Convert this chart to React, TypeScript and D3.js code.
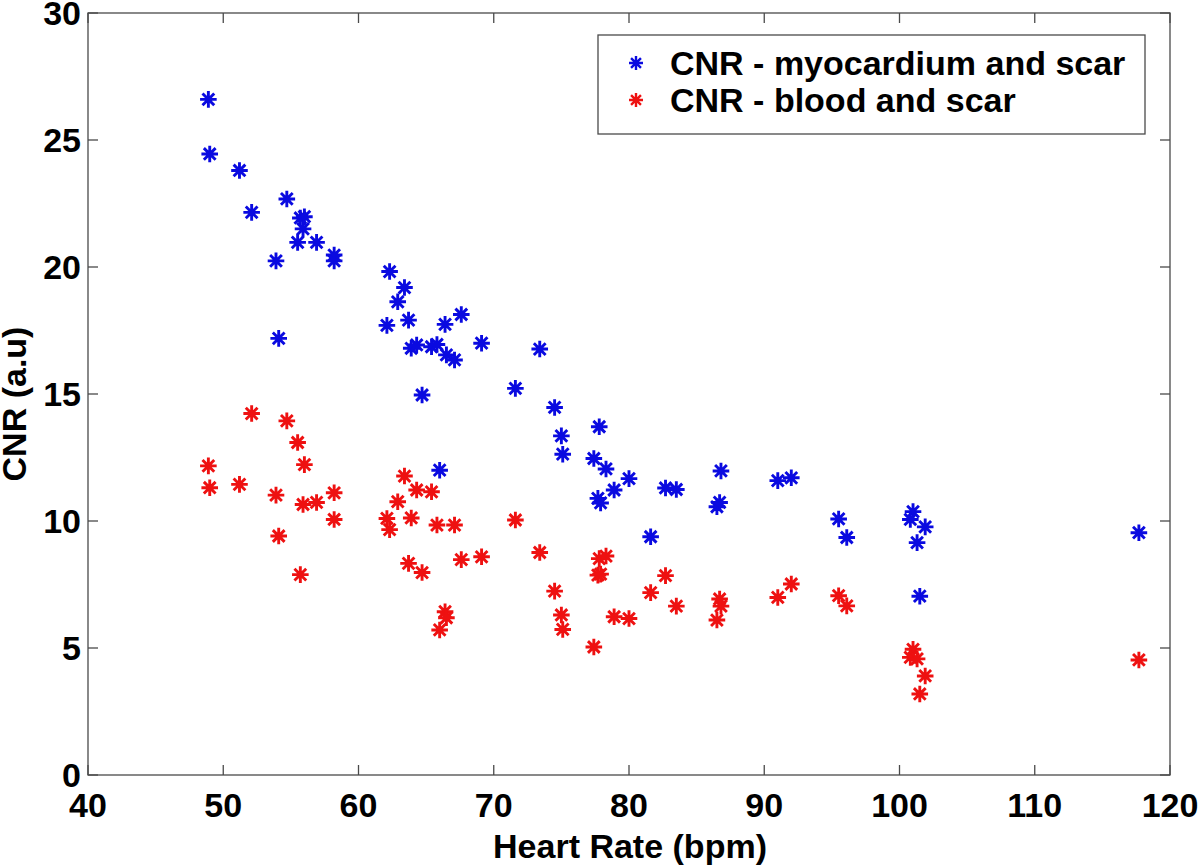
import React from "react";
import * as d3 from "d3";

const heartRate = [
  48.9, 49.0, 51.2, 52.1, 54.7, 53.9, 54.1, 55.5, 55.7, 55.9, 56.0, 56.9, 58.2, 58.2,
  62.3, 63.4, 62.9, 62.1, 63.7, 66.4, 67.6, 63.9, 64.3, 65.4, 65.8, 66.5, 67.1, 69.1,
  64.7, 66.0, 71.6, 73.4, 74.5, 75.0, 75.1, 77.8, 77.4, 78.3, 80.0, 78.9, 77.7, 77.9,
  82.7, 83.5, 86.8, 86.5, 86.7, 81.6, 91.0, 92.0, 95.5, 96.1, 101.0, 100.8, 101.9,
  101.3, 101.5, 117.7,
];

const cnrMyocardium = [
  26.6, 24.45, 23.8, 22.15, 22.68, 20.24, 17.19, 20.97, 21.93, 21.5, 21.98, 20.97, 20.47, 20.24,
  19.82, 19.19, 18.63, 17.7, 17.91, 17.74, 18.13, 16.8, 16.93, 16.86, 16.95, 16.54, 16.34, 17.0,
  14.96, 12.0, 15.22, 16.77, 14.47, 13.35, 12.63, 13.71, 12.46, 12.05, 11.67, 11.22, 10.89, 10.71,
  11.3, 11.24, 11.97, 10.56, 10.73, 9.38, 11.59, 11.7, 10.08, 9.35, 10.37, 10.06, 9.77,
  9.15, 7.04, 9.54,
];

const cnrBlood = [
  12.17, 11.31, 11.44, 14.23, 13.94, 11.02, 9.41, 13.09, 7.89, 10.65, 12.22, 10.73, 11.11, 10.06,
  9.66, 11.77, 10.76, 10.1, 8.33, 6.43, 8.48, 10.12, 11.22, 11.15, 9.84, 6.19, 9.84, 8.59,
  7.97, 5.71, 10.04, 8.76, 7.24, 6.3, 5.73, 8.52, 5.04, 8.62, 6.16, 6.23, 7.87, 7.91,
  7.85, 6.65, 6.65, 6.1, 6.93, 7.18, 6.99, 7.52, 7.06, 6.66, 4.95, 4.63, 3.9,
  4.57, 3.19, 4.53,
];

const xTicks = [40, 50, 60, 70, 80, 90, 100, 110, 120];
const yTicks = [0, 5, 10, 15, 20, 25, 30];

const seriesNames = ["CNR - myocardium and scar", "CNR - blood and scar"];
const seriesColors = ["#0a0ae0", "#ee1111"];

const W = 1200;
const H = 866;
const FONT = "'Liberation Sans', Arial, Helvetica, sans-serif";

function starPath(r: number) {
  const d = r * Math.SQRT1_2;
  return `M0,${-r}L0,${r}M${-r},0L${r},0M${-d},${-d}L${d},${d}M${-d},${d}L${d},${-d}`;
}

export default function App() {
  const x = d3.scaleLinear().domain([40, 120]).range([88, 1170]);
  const y = d3.scaleLinear().domain([0, 30]).range([775, 13]);
  const [x0, x1] = x.range();
  const [y0, y1] = y.range();
  const tick = 10;
  const axisColor = "#4a4a4a";
  const marker = starPath(8.3);

  const series = [cnrMyocardium, cnrBlood];

  return (
    <svg
      width={W}
      height={H}
      style={{ position: "absolute", left: 0, top: 0, background: "#fff" }}
      fontFamily={FONT}
    >
      <rect x={0} y={0} width={W} height={H} fill="#fff" />
      {/* frame */}
      <rect x={x0} y={y1} width={x1 - x0} height={y0 - y1} fill="none" stroke={axisColor} strokeWidth={1.3} />
      {xTicks.map((t) => (
        <g key={"xt" + t}>
          <line x1={x(t)} x2={x(t)} y1={y0} y2={y0 - tick} stroke={axisColor} strokeWidth={1.3} />
          <line x1={x(t)} x2={x(t)} y1={y1} y2={y1 + tick} stroke={axisColor} strokeWidth={1.3} />
          <text x={x(t)} y={817} textAnchor="middle" fontSize={34} fontWeight="bold" fill="#000">
            {t}
          </text>
        </g>
      ))}
      {yTicks.map((t) => (
        <g key={"yt" + t}>
          <line x1={x0} x2={x0 + tick} y1={y(t)} y2={y(t)} stroke={axisColor} strokeWidth={1.3} />
          <line x1={x1} x2={x1 - tick} y1={y(t)} y2={y(t)} stroke={axisColor} strokeWidth={1.3} />
          <text x={81} y={y(t) + 12} textAnchor="end" fontSize={34} fontWeight="bold" fill="#000">
            {t}
          </text>
        </g>
      ))}
      {/* axis labels */}
      <text x={630} y={858} textAnchor="middle" fontSize={34} fontWeight="bold" fill="#000">
        Heart Rate (bpm)
      </text>
      <text
        transform={`translate(26,${(y0 + y1) / 2 + 10}) rotate(-90)`}
        textAnchor="middle"
        fontSize={34}
        fontWeight="bold"
        fill="#000"
      >
        CNR (a.u)
      </text>
      {/* points */}
      {series.map((vals, si) => (
        <g key={"s" + si} stroke={seriesColors[si]} strokeWidth={2.9} fill="none">
          {vals.map((v, i) => (
            <path key={i} d={marker} transform={`translate(${x(heartRate[i])},${y(v)})`} />
          ))}
        </g>
      ))}
      {/* legend */}
      <g>
        <rect x={598} y={35} width={547} height={99} fill="#fff" stroke={axisColor} strokeWidth={1.3} />
        {seriesNames.map((name, i) => (
          <g key={"lg" + i} transform={`translate(0,${63 + i * 37})`}>
            <path d={starPath(7)} transform="translate(636,0)" stroke={seriesColors[i]} strokeWidth={2.4} fill="none" />
            <text x={670} y={12} fontSize={34} fontWeight="bold" fill="#000">
              {name}
            </text>
          </g>
        ))}
      </g>
    </svg>
  );
}
